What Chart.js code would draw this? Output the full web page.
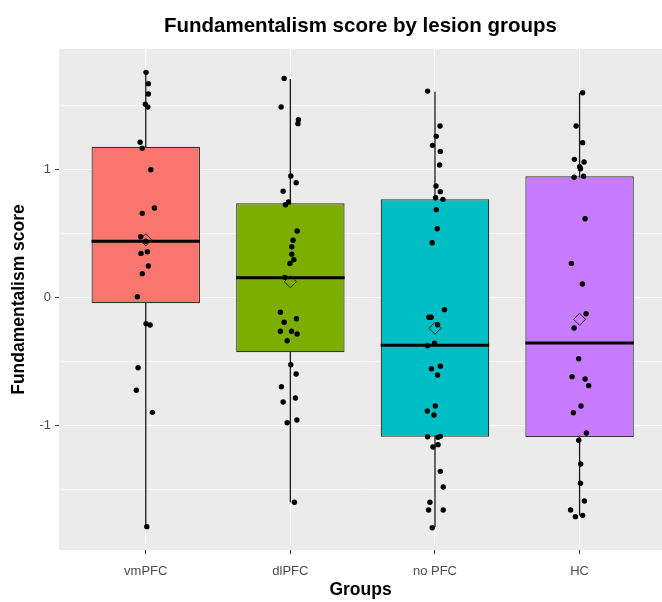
<!DOCTYPE html>
<html lang="en">
<head>
    <meta charset="UTF-8">
    <title>Fundamentalism score by lesion groups</title>
    <script src="https://cdn.jsdelivr.net/npm/chart.js"></script>
    <style>
        html, body { margin: 0; padding: 0; background: #ffffff; }
        #box { width: 662px; height: 602px; }
    </style>
</head>
<body>
<div id="box"><canvas id="grafico"></canvas></div>

<script>
    // dados
    const grupos = ['vmPFC', 'dlPFC', 'no PFC', 'HC'];
    const cores = ['#F8766D', '#7CAE00', '#00BFC4', '#C77CFF'];

    const bigodeMin = [-1.786, -1.596, -1.79, -1.70];
    const q1 = [-0.045, -0.427, -1.085, -1.087];
    const mediana = [0.438, 0.154, -0.373, -0.355];
    const q3 = [1.175, 0.734, 0.765, 0.945];
    const bigodeMax = [1.755, 1.703, 1.604, 1.596];
    const media = [0.45, 0.123, -0.24, -0.17];

    const ticksY = [-1.5, -1, -0.5, 0, 0.5, 1, 1.5];

    // pontos (valor) e deslocamento horizontal do jitter, por grupo
    const valVm = [1.755, 1.667, 1.586, 1.506, 1.485, 1.21, 1.163, 0.996, 0.698, 0.656, 0.474, 0.438,
        0.357, 0.344, 0.246, 0.186, 0.006, -0.204, -0.214, -0.547, -0.723, -0.895, -1.786];
    const jitVm = [0.002, 0.018, 0.018, -0.003, 0.014, -0.039, -0.024, 0.035, 0.06, -0.024, -0.035, 0.0,
        0.011, -0.033, 0.018, -0.024, -0.058, 0.002, 0.03, -0.053, -0.065, 0.046, 0.007];

    const valDl = [1.708, 1.485, 1.386, 1.355, 0.947, 0.895, 0.828, 0.744, 0.723, 0.518, 0.446, 0.396,
        0.337, 0.295, 0.266, 0.157, -0.115, -0.165, -0.193, -0.263, -0.263, -0.284, -0.337, -0.524,
        -0.596, -0.695, -0.783, -0.814, -0.955, -0.976, -1.596];
    const jitDl = [-0.043, -0.064, 0.056, 0.052, 0.003, 0.04, -0.05, -0.013, -0.034, 0.047, 0.019, 0.01,
        0.01, 0.024, -0.003, -0.038, -0.069, 0.042, -0.043, -0.069, 0.008, 0.047, -0.022, 0.003,
        0.04, -0.062, 0.035, -0.05, 0.045, -0.022, 0.028];

    const valNo = [1.609, 1.337, 1.256, 1.186, 1.139, 1.033, 0.869, 0.825, 0.778, 0.765, 0.684, 0.536,
        0.427, -0.095, -0.154, -0.154, -0.212, -0.357, -0.376, -0.536, -0.555, -0.604, -0.846, -0.885,
        -0.916, -1.082, -1.085, -1.09, -1.147, -1.165, -1.355, -1.477, -1.596, -1.656, -1.656, -1.794];
    const jitNo = [-0.051, 0.035, 0.009, -0.017, 0.037, 0.032, 0.007, 0.037, 0.004, 0.055, 0.009, 0.016,
        -0.019, 0.066, -0.042, -0.026, 0.018, -0.003, -0.051, 0.037, -0.024, 0.018, 0.002, -0.053,
        -0.007, 0.037, -0.051, 0.021, 0.021, -0.014, 0.037, 0.057, -0.035, -0.044, 0.057, -0.019];

    const valHc = [1.596, 1.337, 1.207, 1.077, 1.056, 1.019, 1.004, 0.945, 0.937, 0.614, 0.266, 0.105,
        -0.126, -0.238, -0.477, -0.617, -0.635, -0.687, -0.846, -0.898, -1.056, -1.113, -1.298, -1.448,
        -1.586, -1.656, -1.698, -1.708];
    const jitHc = [0.021, -0.024, 0.021, -0.036, 0.031, 0.001, 0.006, 0.028, -0.038, 0.038, -0.057, 0.019,
        0.045, -0.038, -0.006, -0.052, 0.038, 0.063, 0.01, -0.043, 0.047, -0.006, 0.008, 0.006,
        0.033, -0.062, 0.021, -0.029];

    const valores = [valVm, valDl, valNo, valHc];
    const jitters = [jitVm, jitDl, jitNo, jitHc];

    const larguraCaixa = 0.75;
    const fonte = 'Liberation Sans, Arial, sans-serif';

    // fundo cinza do painel, estilo ggplot
    const fundoPainel = {
        id: 'fundoPainel',
        beforeDraw(chart) {
            const { ctx, chartArea: a } = chart;
            ctx.save();
            ctx.fillStyle = '#EBEBEB';
            ctx.fillRect(a.left, a.top, a.right - a.left, a.bottom - a.top);
            ctx.restore();
        }
    };

    const datasets = [];

    // bigodes (linha inteira, a caixa cobre o meio)
    grupos.forEach((g, i) => {
        datasets.push({
            type: 'line',
            data: [{ x: i + 1, y: bigodeMin[i] }, { x: i + 1, y: bigodeMax[i] }],
            borderColor: '#1a1a1a',
            borderWidth: 1.3,
            pointRadius: 0,
            order: 5
        });
    });

    // caixas
    datasets.push({
        type: 'bar',
        data: grupos.map((g, i) => ({ x: i + 1, y: [q1[i], q3[i]] })),
        backgroundColor: cores,
        borderColor: '#333333',
        borderWidth: 1.2,
        borderSkipped: false,
        categoryPercentage: 1,
        barPercentage: larguraCaixa,
        order: 4
    });

    // medianas
    grupos.forEach((g, i) => {
        datasets.push({
            type: 'line',
            data: [{ x: i + 1 - larguraCaixa / 2, y: mediana[i] }, { x: i + 1 + larguraCaixa / 2, y: mediana[i] }],
            borderColor: '#000000',
            borderWidth: 3,
            pointRadius: 0,
            order: 3
        });
    });

    // pontos com jitter
    const pontos = [];
    valores.forEach((vals, i) => {
        vals.forEach((v, k) => pontos.push({ x: i + 1 + jitters[i][k], y: v }));
    });
    datasets.push({
        type: 'scatter',
        data: pontos,
        backgroundColor: '#000000',
        borderWidth: 0,
        pointRadius: 2.7,
        order: 2
    });

    // media (losango vazado)
    datasets.push({
        type: 'scatter',
        data: grupos.map((g, i) => ({ x: i + 1, y: media[i] })),
        pointStyle: 'rectRot',
        pointRadius: 6,
        backgroundColor: 'rgba(0,0,0,0)',
        borderColor: '#222222',
        borderWidth: 1,
        order: 1
    });

    new Chart(document.getElementById('grafico'), {
        type: 'scatter',
        data: { datasets: datasets },
        options: {
            responsive: true,
            maintainAspectRatio: false,
            animation: false,
            events: [],
            layout: { autoPadding: false, padding: 0 },
            plugins: {
                legend: { display: false },
                tooltip: { enabled: false },
                title: {
                    display: true,
                    text: 'Fundamentalism score by lesion groups',
                    fullSize: false,
                    color: '#000000',
                    font: { family: fonte, size: 20.5, weight: 'bold' },
                    padding: { top: 14, bottom: 10.4 }
                }
            },
            scales: {
                x: {
                    type: 'linear',
                    min: 0.4,
                    max: 4.57,
                    offset: false,
                    afterBuildTicks: s => { s.ticks = grupos.map((g, i) => ({ value: i + 1 })); },
                    afterFit: s => { s.height = 52; s.paddingLeft = 0; s.paddingRight = 0; },
                    border: { display: false },
                    grid: {
                        offset: false,
                        color: '#FFFFFF',
                        lineWidth: 1.1,
                        tickColor: '#333333',
                        tickLength: 4,
                        tickWidth: 1
                    },
                    ticks: {
                        autoSkip: false,
                        maxRotation: 0,
                        padding: 10,
                        color: '#4D4D4D',
                        font: { family: fonte, size: 13 },
                        callback: (v, idx) => grupos[idx]
                    },
                    title: {
                        display: true,
                        text: 'Groups',
                        color: '#000000',
                        font: { family: fonte, size: 17.5, weight: 'bold' },
                        padding: { top: 0, bottom: 1.5 }
                    }
                },
                y: {
                    type: 'linear',
                    min: -1.968,
                    max: 1.937,
                    afterBuildTicks: s => { s.ticks = ticksY.map(v => ({ value: v })); },
                    afterFit: s => { s.width = 59; },
                    border: { display: false },
                    grid: {
                        color: '#FFFFFF',
                        lineWidth: c => Number.isInteger(c.tick.value) ? 1.1 : 0.55,
                        tickColor: c => Number.isInteger(c.tick.value) ? '#333333' : 'rgba(0,0,0,0)',
                        tickLength: 4,
                        tickWidth: 1
                    },
                    ticks: {
                        padding: 4,
                        color: '#4D4D4D',
                        font: { family: fonte, size: 13 },
                        callback: v => Number.isInteger(v) ? String(v) : ''
                    },
                    title: {
                        display: true,
                        text: 'Fundamentalism score',
                        color: '#000000',
                        font: { family: fonte, size: 17.5, weight: 'bold' },
                        padding: { top: 8.5, bottom: 0 }
                    }
                }
            }
        },
        plugins: [fundoPainel]
    });
</script>
</body>
</html>
